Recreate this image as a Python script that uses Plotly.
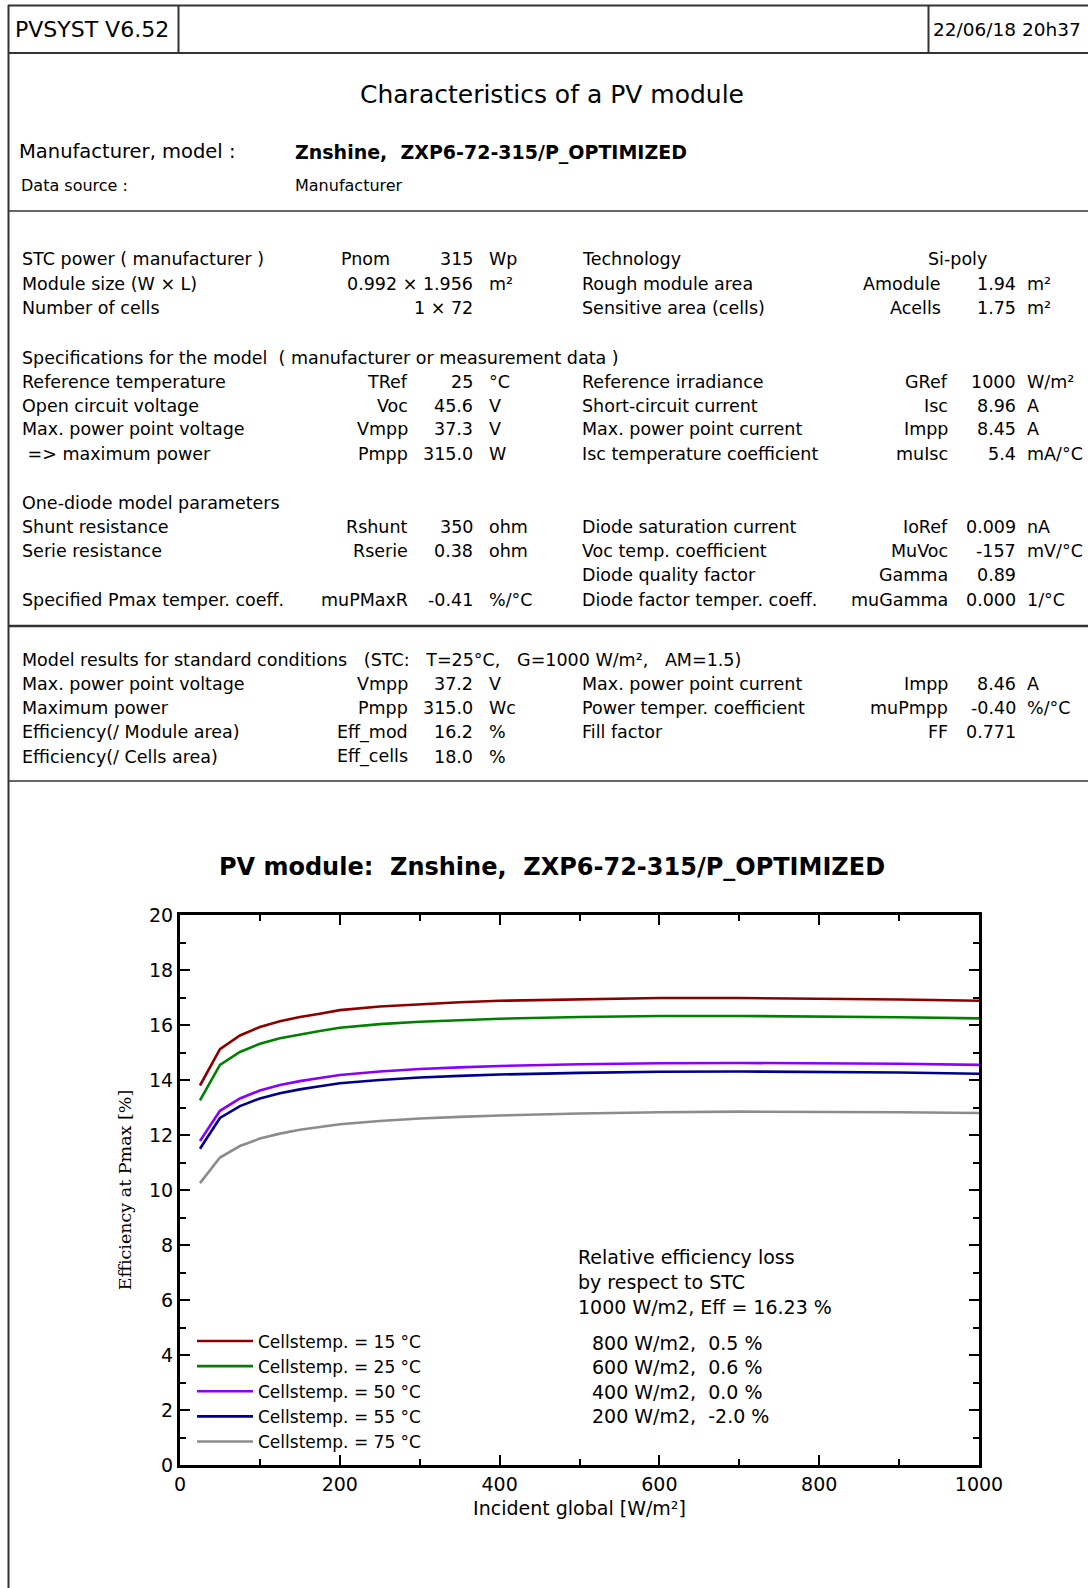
import plotly.graph_objects as go

# ---------------- data ----------------
irradiance = [25, 50, 75, 100, 125, 150, 175, 200, 250, 300, 350, 400, 500, 600, 700, 800, 900, 1000]
eff_15 = [13.80, 15.12, 15.62, 15.93, 16.14, 16.29, 16.41, 16.54, 16.67, 16.76, 16.83, 16.88, 16.94, 16.98, 16.98, 16.96, 16.93, 16.88]
eff_25 = [13.26, 14.55, 15.02, 15.32, 15.52, 15.66, 15.78, 15.90, 16.03, 16.12, 16.18, 16.23, 16.29, 16.33, 16.33, 16.31, 16.28, 16.24]
eff_50 = [11.78, 12.88, 13.33, 13.62, 13.82, 13.96, 14.07, 14.18, 14.31, 14.40, 14.46, 14.51, 14.57, 14.61, 14.62, 14.61, 14.59, 14.55]
eff_55 = [11.50, 12.62, 13.05, 13.33, 13.52, 13.66, 13.77, 13.88, 14.00, 14.09, 14.15, 14.20, 14.26, 14.30, 14.31, 14.30, 14.27, 14.23]
eff_75 = [10.25, 11.18, 11.60, 11.87, 12.05, 12.19, 12.29, 12.39, 12.51, 12.60, 12.66, 12.71, 12.78, 12.83, 12.85, 12.85, 12.83, 12.80]
series_names = ["Cellstemp. = 15 °C", "Cellstemp. = 25 °C", "Cellstemp. = 50 °C",
                "Cellstemp. = 55 °C", "Cellstemp. = 75 °C"]
series_values = [eff_15, eff_25, eff_50, eff_55, eff_75]
series_colors = ["rgb(140,0,0)", "rgb(0,128,0)", "rgb(136,0,255)", "rgb(0,0,140)", "rgb(140,140,140)"]

loss_lines = ["800 W/m2,  0.5 %", "600 W/m2,  0.6 %", "400 W/m2,  0.0 %", "200 W/m2,  -2.0 %"]
loss_header = ["Relative efficiency loss", "by respect to STC", "1000 W/m2, Eff = 16.23 %"]

x_ticks = [0, 200, 400, 600, 800, 1000]
y_ticks = [0, 2, 4, 6, 8, 10, 12, 14, 16, 18, 20]

header_left = "PVSYST V6.52"
header_right = "22/06/18 20h37"
page_title = "Characteristics of a PV module"
manuf_label = "Manufacturer, model :"
manuf_value = "Znshine,  ZXP6-72-315/P_OPTIMIZED"
source_label = "Data source :"
source_value = "Manufacturer"
chart_title = "PV module:  Znshine,  ZXP6-72-315/P_OPTIMIZED"

# table sections: (left label, left symbol, left value, left unit, right label, right symbol, right value, right unit)
sec1 = [
    ("STC power ( manufacturer )", "Pnom", "315", "Wp", "Technology", "", "", ""),
    ("Module size (W × L)", "", "0.992 × 1.956", "m²", "Rough module area", "Amodule", "1.94", "m²"),
    ("Number of cells", "", "1 × 72", "", "Sensitive area (cells)", "Acells", "1.75", "m²"),
]
sec1_technology = "Si-poly"
sec2_title = "Specifications for the model  ( manufacturer or measurement data )"
sec2 = [
    ("Reference temperature", "TRef", "25", "°C", "Reference irradiance", "GRef", "1000", "W/m²"),
    ("Open circuit voltage", "Voc", "45.6", "V", "Short-circuit current", "Isc", "8.96", "A"),
    ("Max. power point voltage", "Vmpp", "37.3", "V", "Max. power point current", "Impp", "8.45", "A"),
    (" => maximum power", "Pmpp", "315.0", "W", "Isc temperature coefficient", "muIsc", "5.4", "mA/°C"),
]
sec3_title = "One-diode model parameters"
sec3 = [
    ("Shunt resistance", "Rshunt", "350", "ohm", "Diode saturation current", "IoRef", "0.009", "nA"),
    ("Serie resistance", "Rserie", "0.38", "ohm", "Voc temp. coefficient", "MuVoc", "-157", "mV/°C"),
    ("", "", "", "", "Diode quality factor", "Gamma", "0.89", ""),
    ("Specified Pmax temper. coeff.", "muPMaxR", "-0.41", "%/°C", "Diode factor temper. coeff.", "muGamma", "0.000", "1/°C"),
]
sec4_title = "Model results for standard conditions   (STC:   T=25°C,   G=1000 W/m²,   AM=1.5)"
sec4 = [
    ("Max. power point voltage", "Vmpp", "37.2", "V", "Max. power point current", "Impp", "8.46", "A"),
    ("Maximum power", "Pmpp", "315.0", "Wc", "Power temper. coefficient", "muPmpp", "-0.40", "%/°C"),
    ("Efficiency(/ Module area)", "Eff_mod", "16.2", "%", "Fill factor", "FF", "0.771", ""),
    ("Efficiency(/ Cells area)", "Eff_cells", "18.0", "%", "", "", "", ""),
]

# ---------------- layout geometry (page pixels) ----------------
W, H = 1088, 1588
PLOT_L, PLOT_R, PLOT_T, PLOT_B = 180, 979, 915, 1465   # page pixel positions of the plot frame
ML, MT = PLOT_L, PLOT_T
MR, MB = W - PLOT_R, H - PLOT_B
PW = W - ML - MR
PH = H - MT - MB


def px(x):
    return (x - ML) / PW


def py(y):
    return (H - MB - y) / PH


def nb(s):
    return s.replace("  ", "\u00a0\u00a0").replace("\u00a0 ", "\u00a0\u00a0")


FONT = "DejaVu Sans"
annotations = []


def txt(x, y, s, size=16, anchor="left", bold=False, family=FONT, color="black"):
    annotations.append(dict(
        x=px(x), y=py(y), xref="paper", yref="paper", text=nb(s), showarrow=False,
        xanchor=anchor, yanchor="middle",
        font=dict(family=family, size=size, color=color,
                  weight="bold" if bold else "normal"),
    ))


fig = go.Figure()
for name, vals, col in zip(series_names, series_values, series_colors):
    fig.add_trace(go.Scatter(x=irradiance, y=vals, mode="lines", name=name,
                             line=dict(color=col, width=2.6)))

# header
txt(13, 29.5, header_left, size=22)
txt(931, 29.5, header_right, size=18.5)
txt(552, 94, page_title, size=25, anchor="center")
txt(17, 151, manuf_label, size=19.5)
txt(293, 152, manuf_value, size=19, bold=True)
txt(19, 185.5, source_label, size=16)
txt(293, 185.5, source_value, size=16)

LBL_X, SYM_R, VAL_R, UNIT_X = 20, 410, 475, 487
RLBL_X, RSYM_R, RVAL_R, RUNIT_X = 580, 950, 1018, 1025
FS = 17.5


def table(rows, ys, sym_r=SYM_R, rsym_r=RSYM_R):
    for row, y in zip(rows, ys):
        l, ls, lv, lu, r, rs, rv, ru = row
        if l:
            txt(LBL_X, y, l, size=FS)
        if ls:
            txt(sym_r, y, ls, size=FS, anchor="right")
        if lv:
            txt(VAL_R, y, lv, size=FS, anchor="right")
        if lu:
            txt(UNIT_X, y, lu, size=FS)
        if r:
            txt(RLBL_X, y, r, size=FS)
        if rs:
            txt(rsym_r, y, rs, size=FS, anchor="right")
        if rv:
            txt(RVAL_R, y, rv, size=FS, anchor="right")
        if ru:
            txt(RUNIT_X, y, ru, size=FS)


table(sec1, [259.3, 283.6, 308], sym_r=392, rsym_r=943)
txt(957, 259.3, sec1_technology, size=FS, anchor="center")
txt(LBL_X, 357.6, sec2_title, size=FS)
table(sec2, [382, 405.5, 429.5, 453.8])
txt(LBL_X, 503.5, sec3_title, size=FS)
table(sec3, [526.8, 551, 575.4, 599.7])
txt(LBL_X, 659.5, sec4_title, size=FS)
table(sec4, [683.8, 708, 732.4, 756.7])

# efficiency loss text inside chart
for i, s in enumerate(loss_header):
    txt(576, 1257 + i * 24.8, s, size=19)
for i, s in enumerate(loss_lines):
    txt(590, 1343 + i * 24.3, s, size=19)

# page frame lines
shapes = []


def hline(y, x0, x1, w=2, c="#333333"):
    shapes.append(dict(type="line", xref="paper", yref="paper", x0=px(x0), x1=px(x1),
                       y0=py(y), y1=py(y), line=dict(color=c, width=w)))


def vline(x, y0, y1, w=2, c="#333333"):
    shapes.append(dict(type="line", xref="paper", yref="paper", x0=px(x), x1=px(x),
                       y0=py(y0), y1=py(y1), line=dict(color=c, width=w)))


hline(5.5, 8, 1100)
hline(53, 8, 1100)
vline(178.5, 5, 53)
vline(928.5, 5, 53)
hline(211, 8, 1100, w=1.5)
hline(626, 8, 1100, w=2.5)
hline(781, 8, 1100, w=1.5)
vline(8.5, 5, 1600)

fig.update_layout(
    width=W, height=H,
    margin=dict(l=ML, r=MR, t=MT, b=MB, autoexpand=False),
    paper_bgcolor="white", plot_bgcolor="white",
    title=dict(text="<b>" + nb(chart_title) + "</b>", x=552 / W, y=1 - 867 / H,
               xref="container", yref="container", xanchor="center", yanchor="middle",
               font=dict(family=FONT, size=24, color="black")),
    annotations=annotations, shapes=shapes,
    legend=dict(x=px(192), y=py(1323.5), xanchor="left", yanchor="top",
                bgcolor="rgba(0,0,0,0)", font=dict(family=FONT, size=17, color="black"),
                itemwidth=56, tracegroupgap=0),
    showlegend=True,
)
fig.update_xaxes(range=[0, 1000], tickvals=x_ticks, ticks="inside", ticklen=10, tickwidth=2,
                 tickcolor="black", showline=True, linewidth=3, linecolor="black",
                 mirror="ticks", showgrid=False, zeroline=False,
                 minor=dict(dtick=100, ticks="inside", ticklen=6, tickwidth=2, tickcolor="black"),
                 tickfont=dict(family=FONT, size=19, color="black"),
                 title=dict(text="Incident global [W/m²]", standoff=8,
                            font=dict(family=FONT, size=19, color="black")))
fig.update_yaxes(range=[0, 20], tickvals=y_ticks, ticks="inside", ticklen=10, tickwidth=2,
                 tickcolor="black", showline=True, linewidth=3, linecolor="black",
                 mirror="ticks", showgrid=False, zeroline=False,
                 minor=dict(dtick=1, ticks="inside", ticklen=6, tickwidth=2, tickcolor="black"),
                 tickfont=dict(family=FONT, size=19, color="black"),
                 title=dict(text="Efficiency at Pmax [%]", standoff=13,
                            font=dict(family="DejaVu Serif", size=17.5, color="black")))

fig.write_html("out.html", config={"displayModeBar": False},
               post_script="document.body.style.margin='0px';")
